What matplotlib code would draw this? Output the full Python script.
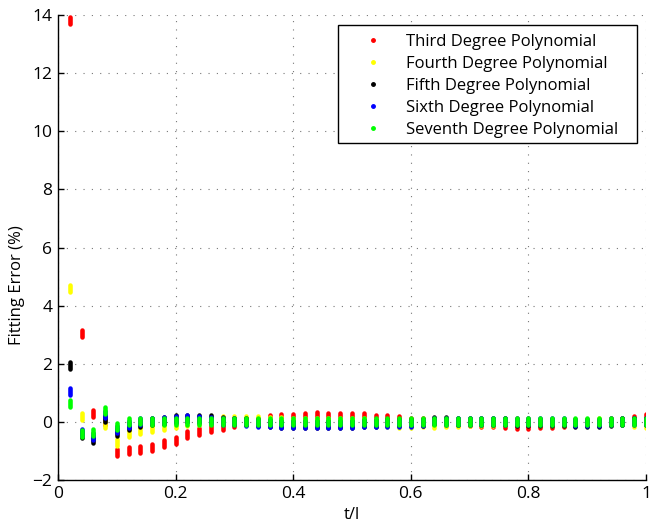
import numpy as np
import matplotlib
matplotlib.use("Agg")
import matplotlib.pyplot as plt
from matplotlib.lines import Line2D
from matplotlib.patches import Rectangle

plt.rcParams['font.family'] = ['Open Sans', 'DejaVu Sans']

# sample positions t/l
t = np.round(np.arange(1, 51) * 0.02, 2)

labels = ['Third Degree Polynomial', 'Fourth Degree Polynomial', 'Fifth Degree Polynomial',
          'Sixth Degree Polynomial', 'Seventh Degree Polynomial']
colors = ['#ff0000', '#ffff00', '#000000', '#0000ff', '#00ff00']

third = [13.8, 3.05, 0.3, 0.0, -1.07, -1.0, -0.95, -0.87, -0.75, -0.65,
         -0.42, -0.33, -0.24, -0.15, -0.05, 0.0, 0.03, 0.11, 0.15, 0.16,
         0.2, 0.21, 0.2, 0.19, 0.18, 0.17, 0.13, 0.12, 0.07, 0.03,
         0.03, 0.0, -0.01, -0.02, -0.03, -0.04, -0.07, -0.1, -0.12, -0.14,
         -0.09, -0.09, -0.07, -0.03, -0.03, -0.01, 0.0, 0.02, 0.09, 0.15]
fourth = [4.6, 0.2, -0.5, -0.1, -0.72, -0.4, -0.3, -0.22, -0.15, -0.1,
          -0.03, 0.0, 0.05, 0.08, 0.08, 0.08, 0.08, 0.05, 0.05, 0.02,
          0.0, 0.0, 0.0, 0.0, 0.0, 0.0, -0.03, -0.06, -0.08, -0.08,
          -0.06, -0.08, -0.05, -0.05, -0.03, -0.02, -0.02, 0.0, 0.0, 0.0,
          -0.01, -0.02, -0.02, -0.02, -0.01, 0.0, 0.0, 0.0, -0.05, -0.08]
fifth = [1.95, -0.45, -0.62, 0.12, -0.38, -0.15, -0.05, 0.0, 0.05, 0.1,
         0.12, 0.12, 0.1, 0.06, 0.03, 0.0, -0.02, -0.05, -0.08, -0.08,
         -0.08, -0.08, -0.08, -0.08, -0.08, -0.06, -0.05, -0.03, -0.03, -0.03,
         -0.03, 0.06, 0.04, 0.0, 0.0, 0.0, 0.0, 0.0, -0.01, -0.02,
         -0.02, -0.02, -0.03, -0.05, -0.05, -0.05, -0.03, 0.0, 0.03, 0.0]
sixth = [1.05, -0.35, -0.5, 0.25, -0.25, -0.08, 0.0, 0.03, 0.05, 0.08,
         0.1, 0.08, 0.05, 0.02, 0.0, -0.03, -0.05, -0.07, -0.08, -0.08,
         -0.08, -0.08, -0.08, -0.08, -0.08, -0.05, -0.05, -0.05, -0.05, -0.05,
         -0.03, 0.03, 0.02, 0.0, 0.0, 0.0, 0.0, 0.0, 0.0, 0.0,
         0.0, 0.0, 0.0, -0.02, -0.02, -0.02, 0.0, 0.0, 0.02, 0.0]
seventh = [0.62, -0.4, -0.38, 0.38, -0.15, 0.02, 0.03, 0.02, 0.02, 0.0,
           0.0, 0.0, 0.0, 0.0, 0.0, 0.0, 0.0, 0.0, 0.0, 0.0,
           0.0, 0.0, 0.0, 0.0, 0.0, 0.0, 0.0, 0.0, 0.0, 0.0,
           0.0, 0.02, 0.0, 0.0, 0.0, 0.0, 0.0, 0.0, 0.0, 0.0,
           0.0, 0.0, 0.0, 0.0, 0.0, 0.0, 0.0, 0.0, 0.0, 0.0]

series = [third, fourth, fifth, sixth, seventh]
spread = 0.12  # half height of each short streak of points

fig = plt.figure(figsize=(6.49, 5.27), dpi=100)
ax = fig.add_axes([0.0894, 0.0892, 0.906, 0.8823])

for vals, c in zip(series, colors):
    v = np.array(vals)
    ax.vlines(t, v - spread, v + spread, colors=c, linewidth=3.3, capstyle='round', zorder=3)

ax.set_xlim(0, 1)
ax.set_ylim(-2, 14)
ax.set_xticks([0, 0.2, 0.4, 0.6, 0.8, 1])
ax.set_xticklabels(['0', '0.2', '0.4', '0.6', '0.8', '1'])
ax.set_yticks(range(-2, 15, 2))
ax.grid(True, linestyle=(0, (1, 6.5)), color='#777777', linewidth=0.8)
ax.tick_params(direction='in', labelsize=12.5, length=4, width=1, pad=4)
ax.spines['top'].set_visible(False)
ax.spines['right'].set_visible(False)
ax.spines['left'].set_linewidth(1)
ax.spines['bottom'].set_linewidth(1)
ax.set_xlabel('t/l', fontsize=12)
ax.set_ylabel('Fitting Error (%)', fontsize=12)
ax.xaxis.set_label_coords(0.5, -0.058)
ax.yaxis.set_label_coords(-0.057, 0.42)

# legend box drawn separately to get the wide right margin
ax.add_patch(Rectangle((0.4754, 0.7247), 0.5093, 0.2538, transform=ax.transAxes,
                       facecolor='white', edgecolor='black', linewidth=1,
                       zorder=4, clip_on=False))
handles = [Line2D([], [], linestyle='none', marker='.', markersize=5, color=c) for c in colors]
leg = ax.legend(handles, labels, loc='upper left', bbox_to_anchor=(0.5076, 0.959),
                borderaxespad=0, borderpad=0, fontsize=12, frameon=False,
                handlelength=2, handletextpad=0.98, labelspacing=0.36)
leg.set_zorder(5)

fig.savefig('out.png', dpi=100)
